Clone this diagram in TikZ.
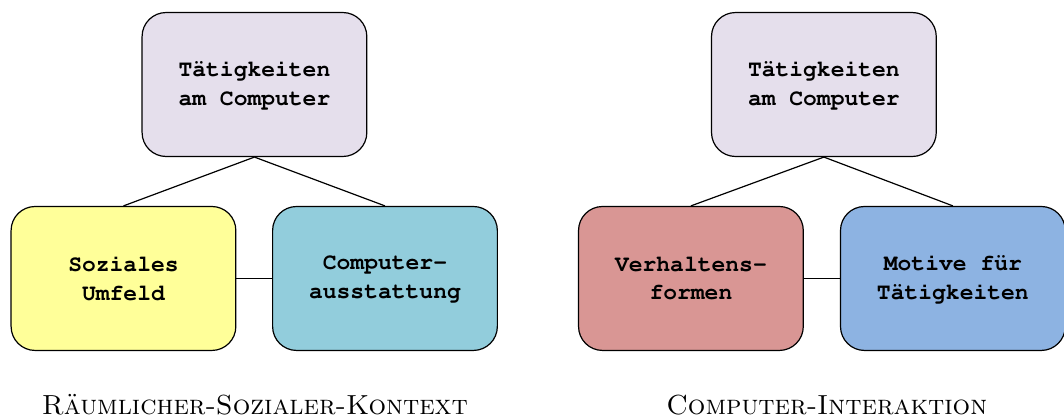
\documentclass[tikz,border=0pt]{standalone}
\usepackage{fontspec}
\usepackage{tikz}
\usetikzlibrary{positioning}
\definecolor{lila}{HTML}{E5DFEC}
\definecolor{gelb}{HTML}{FFFF99}
\definecolor{tuerkis}{HTML}{92CDDC}
\definecolor{rosa}{HTML}{D99694}
\definecolor{hellblau}{HTML}{8DB3E2}
\newcommand{\courierfett}{\fontencoding{T1}\fontfamily{pcr}\fontseries{b}\fontsize{11.5}{14.5}\selectfont}
\tikzset{
  feld/.style={draw, line width=0.6pt, rounded corners=12pt, minimum width=3.95cm,
    minimum height=2.53cm, align=center, font=\courierfett},
  titel/.style={font=\fontsize{13.8}{16}\selectfont, anchor=base},
  kante/.style={line width=0.6pt}
}

\begin{document}
\begin{tikzpicture}
        \useasboundingbox (0,0) rectangle (18.70,-7.363);
        % Linke Gruppe
        \node[feld, fill=lila] (tl) at (4.472,-1.485) {Tätigkeiten\\am Computer};
        \node[feld, fill=gelb] (sozial) at (2.170,-4.894) {Soziales\\Umfeld};
        \node[feld, fill=tuerkis] (ausst) at (6.766,-4.894) {Computer-\\ausstattung};
        \draw[kante] (tl.south) -- (sozial.north);
        \draw[kante] (tl.south) -- (ausst.north);
        \draw[kante] (sozial.east) -- (ausst.west);
        \node[titel] (kl) at (4.48,-7.293) {\textsc{Räumlicher-Sozialer-Kontext}};
        % Rechte Gruppe
        \node[feld, fill=lila] (tr) at (14.48,-1.485) {Tätigkeiten\\am Computer};
        \node[feld, fill=rosa] (verh) at (12.143,-4.894) {Verhaltens-\\formen};
        \node[feld, fill=hellblau] (motiv) at (16.747,-4.894) {Motive für\\Tätigkeiten};
        \draw[kante] (tr.south) -- (verh.north);
        \draw[kante] (tr.south) -- (motiv.north);
        \draw[kante] (verh.east) -- (motiv.west);
        \node[titel] (kr) at (14.53,-7.293) {\textsc{Computer-Interaktion}};
\end{tikzpicture}
\end{document}
